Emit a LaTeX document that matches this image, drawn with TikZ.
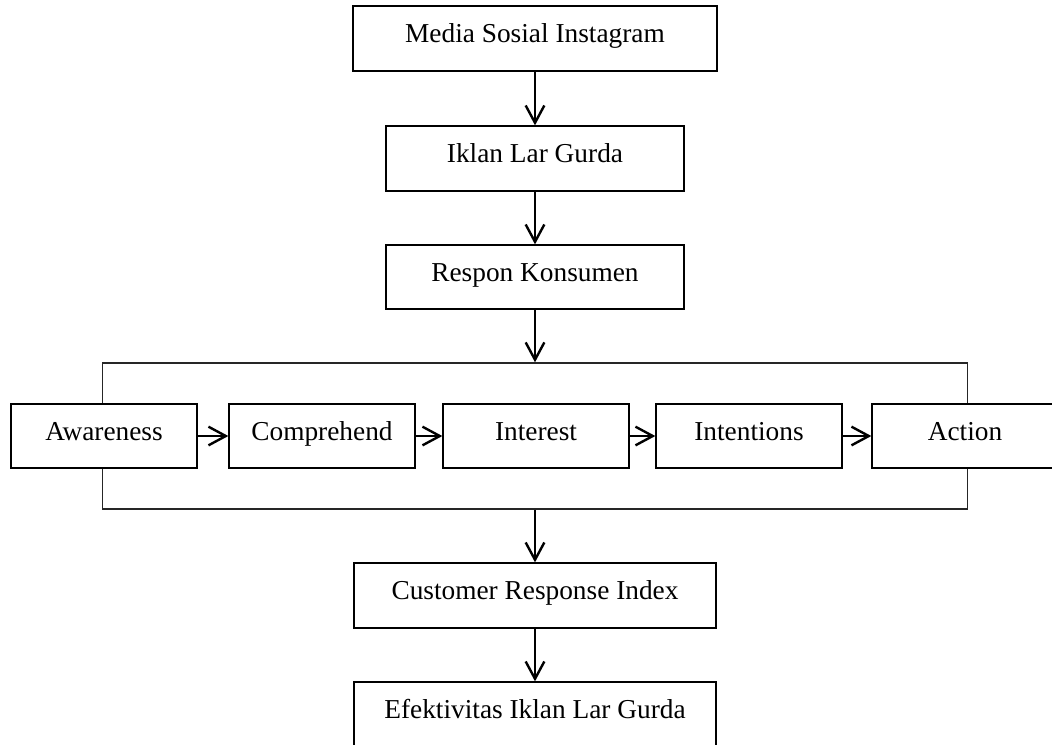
\documentclass[tikz,border=0pt]{standalone}
\usepackage{fontspec}
\setmainfont{Liberation Serif}
\usetikzlibrary{arrows.meta}

\begin{document}
\begin{tikzpicture}[x=0.75pt, y=-0.75pt,
		kotak/.style={draw=black, line width=1pt, fill=white, inner sep=0pt,
			text height=15pt, text depth=9pt, font=\fontsize{20.5}{24}\selectfont},
		bingkai/.style={draw=black!85, line width=1.1pt},
		panah/.style={-{Straight Barb[length=13pt,width=14pt]}, line width=1.8pt}]
		%%%%% START %%%%%
		
		\path[use as bounding box, clip] (0, 0) rectangle (1052, 744);
		
		% alur atas
		\node[kotak, minimum width=273pt, minimum height=48.75pt] (media) at (535, 38.5) {Media Sosial Instagram};
		\node[kotak, minimum width=223.5pt, minimum height=48.75pt] (iklan) at (535, 158.5) {Iklan Lar Gurda};
		\node[kotak, minimum width=223.5pt, minimum height=48pt] (respon) at (535, 277) {Respon Konsumen};
		
		% bingkai tahap respon
		\node[bingkai, minimum width=648.75pt, minimum height=109.5pt] (tahap) at (535, 436) {};
		
		\node[kotak, minimum width=139.5pt, minimum height=48pt] (awareness) at (104, 436) {Awareness};
		\node[kotak, minimum width=139.5pt, minimum height=48pt] (comprehend) at (322, 436) {Comprehend};
		\node[kotak, minimum width=139.5pt, minimum height=48pt] (interest) at (536, 436) {Interest};
		\node[kotak, minimum width=139.5pt, minimum height=48pt] (intentions) at (749, 436) {Intentions};
		\node[kotak, minimum width=139.5pt, minimum height=48pt] (action) at (965, 436) {Action};
		
		% alur bawah
		\node[kotak, minimum width=271.5pt, minimum height=48.75pt] (cri) at (535, 595.5) {Customer Response Index};
		\node[kotak, minimum width=271.5pt, minimum height=48.75pt] (efek) at (535, 714.5) {Efektivitas Iklan Lar Gurda};
		
		% panah
		\draw[panah] (media) -- (iklan);
		\draw[panah] (iklan) -- (respon);
		\draw[panah] (respon) -- (tahap);
		\draw[panah] (awareness) -- (comprehend);
		\draw[panah] (comprehend) -- (interest);
		\draw[panah] (interest) -- (intentions);
		\draw[panah] (intentions) -- (action);
		\draw[panah] (tahap) -- (cri);
		\draw[panah] (cri) -- (efek);
		
		%%%%% END %%%%%
	\end{tikzpicture}
\end{document}
